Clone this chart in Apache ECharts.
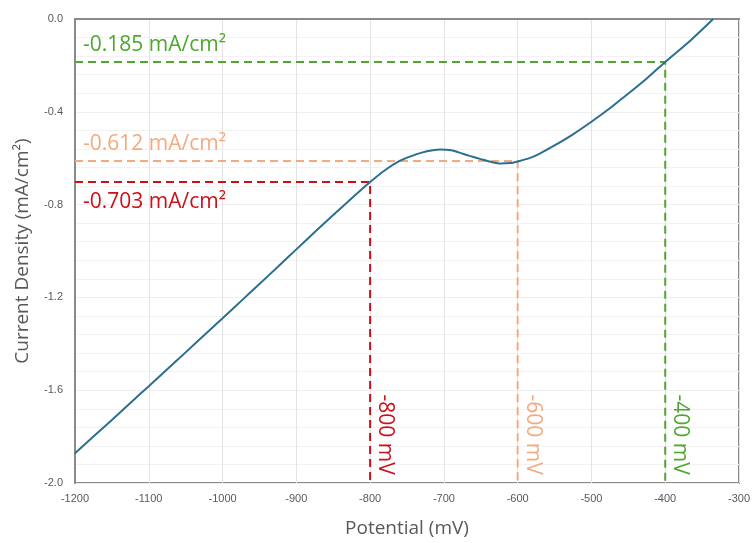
<!DOCTYPE html>
<html><head><meta charset="utf-8">
<script src="https://cdn.jsdelivr.net/npm/echarts@6/dist/echarts.min.js"></script>
<style>html,body{margin:0;padding:0;background:#fff}#c{width:753px;height:543px}</style>
</head><body><div id="c"></div>
<script>
// Potential (mV)
const potential = [-1200,-1175,-1150,-1125,-1100,-1075,-1050,-1025,-1000,-975,-950,-925,-900,-875,-850,-825,-800,-780,-760,-745,-730,-715,-705,-690,-680,-665,-650,-635,-623,-610,-600,-585,-570,-550,-525,-500,-475,-455,-425,-400,-365,-335];
// Current density (mA/cm2)
const current = [-1.872,-1.800,-1.728,-1.655,-1.583,-1.510,-1.437,-1.363,-1.290,-1.216,-1.142,-1.068,-0.993,-0.918,-0.845,-0.773,-0.703,-0.652,-0.612,-0.592,-0.576,-0.566,-0.563,-0.566,-0.575,-0.590,-0.604,-0.617,-0.623,-0.621,-0.614,-0.601,-0.580,-0.545,-0.497,-0.443,-0.385,-0.334,-0.256,-0.185,-0.090,0.0];
const xTicks = [-1200,-1100,-1000,-900,-800,-700,-600,-500,-400,-300];
const yTicks = [0.0,-0.4,-0.8,-1.2,-1.6,-2.0];
// annotations
const annPotential = [-400,-600,-800];
const annCurrent = [-0.185,-0.612,-0.703];
const annColors = ['#4ea72e','#f5a97f','#cc1018'];
const annCurrentLabels = ['-0.185 mA/cm²','-0.612 mA/cm²','-0.703 mA/cm²'];
const annPotentialLabels = ['-400 mV','-600 mV','-800 mV'];

const chart = echarts.init(document.getElementById('c'), null, {renderer:'canvas'});
const series = [{
  type:'line', data: potential.map((p,i)=>[p,current[i]]), showSymbol:false, smooth:0.3,
  lineStyle:{color:'#2b6f90', width:2}, z:5
}];
annPotential.forEach((p,i)=>{
  series.push({type:'line', showSymbol:false, silent:true,
    data:[[xTicks[0],annCurrent[i]],[p,annCurrent[i]],[p,yTicks[yTicks.length-1]]],
    lineStyle:{color:annColors[i], width:2, type:[8,5]}, z:3});
});
chart.setOption({
  animation:false,
  grid:{left:75,right:12,top:19,bottom:59,show:true,borderColor:'#8a8a8a',borderWidth:2},
  xAxis:{type:'value',min:xTicks[0],max:xTicks[xTicks.length-1],interval:100,
    name:'Potential (mV)',nameLocation:'middle',nameGap:36,
    nameTextStyle:{fontFamily:'Open Sans',fontSize:19,color:'#595959'},
    axisLine:{show:true,lineStyle:{color:'#8a8a8a',width:2}},axisTick:{show:false},
    axisLabel:{fontFamily:'Liberation Sans Narrow, Liberation Sans',fontSize:11,color:'#595959',margin:10,showMaxLabel:true,showMinLabel:true,formatter:v=>String(v)},
    splitLine:{show:true,lineStyle:{color:'#e3e3e3',width:1}}},
  yAxis:{type:'value',min:yTicks[yTicks.length-1],max:yTicks[0],interval:0.4,
    name:'Current Density (mA/cm²)',nameLocation:'middle',nameGap:43,
    nameTextStyle:{fontFamily:'Open Sans',fontSize:19,color:'#595959'},
    axisLine:{show:true,lineStyle:{color:'#8a8a8a',width:2}},axisTick:{show:false},
    axisLabel:{fontFamily:'Liberation Sans Narrow, Liberation Sans',fontSize:11,color:'#595959',margin:12,formatter:v=>v.toFixed(1)},
    splitLine:{show:true,lineStyle:{color:'#efefef',width:1}},
    minorTick:{show:false,splitNumber:5},
    minorSplitLine:{show:true,lineStyle:{color:'#f2f2f2',width:1}}},
  series:series
});
const g = [];
annPotential.forEach((p,i)=>{
  const h = chart.convertToPixel({gridIndex:0},[xTicks[0],annCurrent[i]]);
  const below = i===2;
  g.push({type:'text', x:h[0]+8, y: below? h[1]+9 : h[1]-6,
    style:{text:annCurrentLabels[i], fill:annColors[i], font:'21px "Open Sans"',
      textAlign:'left', textVerticalAlign: below?'top':'bottom'}, z:10});
  const v = chart.convertToPixel({gridIndex:0},[p,-1.8]);
  g.push({type:'text', x:v[0]+15, y:v[1]-2, rotation:-Math.PI/2,
    style:{text:annPotentialLabels[i], fill:annColors[i], font:'21px "Open Sans"',
      textAlign:'center', textVerticalAlign:'middle'}, z:10});
});
chart.setOption({graphic:g});
</script></body></html>
